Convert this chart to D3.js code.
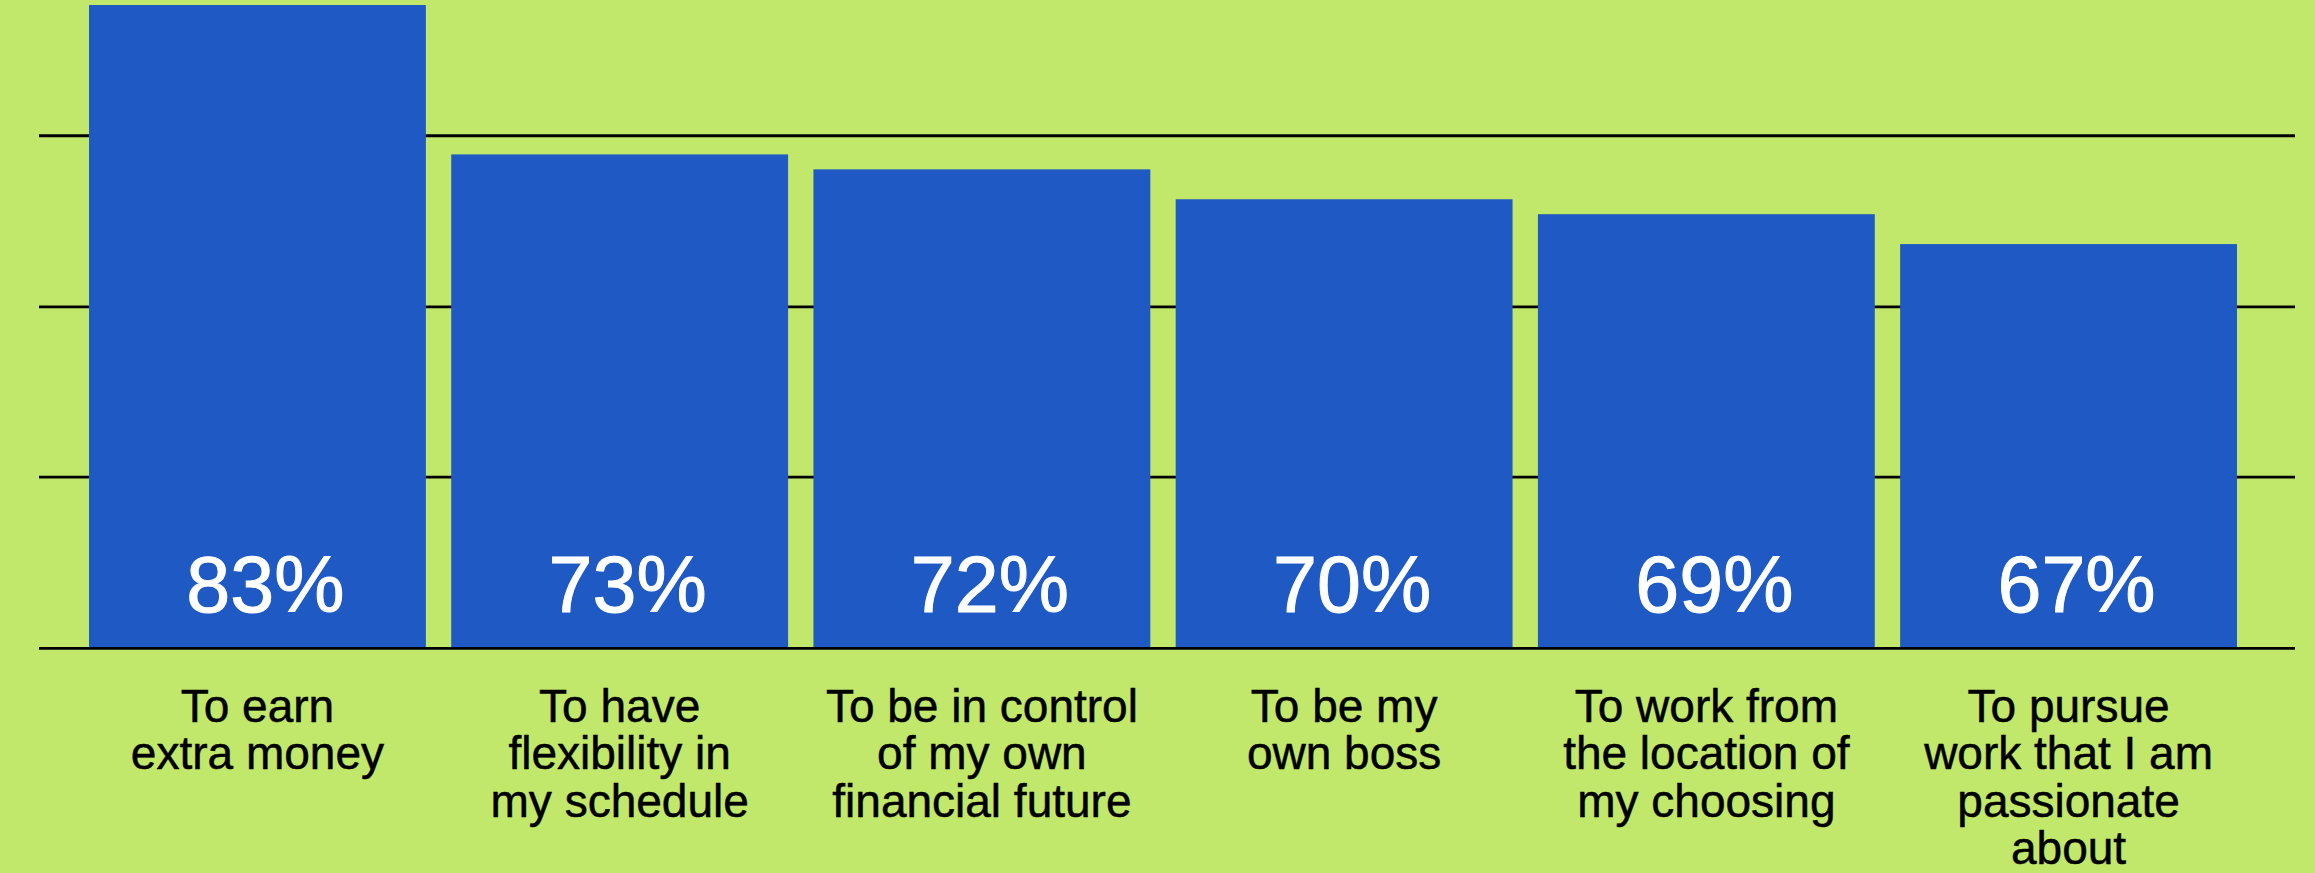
<!DOCTYPE html>
<html>
<head>
<meta charset="utf-8">
<script src="https://cdn.jsdelivr.net/npm/d3@7"></script>
<style>
  html, body { margin: 0; padding: 0; background: #c1e86a; }
  svg { display: block; }
</style>
</head>
<body>
<svg id="chart" width="2315" height="873"></svg>
<script>
// Reasons for freelancing, share of respondents (%)
const categories = [
  ["To earn", "extra money"],
  ["To have", "flexibility in", "my schedule"],
  ["To be in control", "of my own", "financial future"],
  ["To be my", "own boss"],
  ["To work from", "the location of", "my choosing"],
  ["To pursue", "work that I am", "passionate", "about"]
];
const values = [83, 73, 72, 70, 69, 67];
const valueLabels = ["83%", "73%", "72%", "70%", "69%", "67%"];
// value axis: baseline and the horizontal rules above it
const axisFloor = 40;
const axisTop = 83;
const gridValues = [51.4, 62.8, 74.25];

const W = 2315, H = 873;
const BG = "#c1e86a", BAR = "#1f59c4", INK = "#000000";

const svg = d3.select("#chart");
svg.append("rect").attr("width", W).attr("height", H).attr("fill", BG);

const x = d3.scaleBand()
  .domain(d3.range(values.length))
  .range([89, 2237])
  .paddingInner(0.07)
  .paddingOuter(0);

const y = d3.scaleLinear()
  .domain([axisFloor, axisTop])
  .range([647.5, 5]);

const ruleX0 = 39, ruleX1 = 2295;

// horizontal rules behind the bars
svg.append("g")
  .selectAll("line")
  .data(gridValues)
  .join("line")
  .attr("x1", ruleX0).attr("x2", ruleX1)
  .attr("y1", d => y(d)).attr("y2", d => y(d))
  .attr("stroke", INK)
  .attr("stroke-width", 2.8);

// bars
svg.append("g")
  .selectAll("rect")
  .data(values)
  .join("rect")
  .attr("x", (d, i) => x(i))
  .attr("width", x.bandwidth())
  .attr("y", d => y(d))
  .attr("height", d => y(axisFloor) - y(d))
  .attr("fill", BAR);

// baseline over the bar feet
svg.append("line")
  .attr("x1", ruleX0).attr("x2", ruleX1)
  .attr("y1", y(axisFloor) + 0.8).attr("y2", y(axisFloor) + 0.8)
  .attr("stroke", INK)
  .attr("stroke-width", 2.8);

// value labels inside the bars
svg.append("g")
  .selectAll("text")
  .data(valueLabels)
  .join("text")
  .attr("x", (d, i) => x(i) + x.bandwidth() / 2 + 8)
  .attr("y", y(axisFloor) - 36)
  .attr("text-anchor", "middle")
  .attr("font-family", "'Liberation Sans', Arial, sans-serif")
  .attr("font-size", 79)
  .attr("fill", "#ffffff")
  .attr("stroke", "#ffffff")
  .attr("stroke-width", 1)
  .text(d => d);

// category labels under the baseline
const cat = svg.append("g")
  .selectAll("text")
  .data(categories)
  .join("text")
  .attr("text-anchor", "middle")
  .attr("font-family", "'Liberation Sans', Arial, sans-serif")
  .attr("font-size", 46)
  .attr("fill", INK)
  .attr("stroke", INK)
  .attr("stroke-width", 0.5)
  .attr("transform", (d, i) => `translate(${x(i) + x.bandwidth() / 2},722)`);

cat.selectAll("tspan")
  .data(d => d)
  .join("tspan")
  .attr("x", 0)
  .attr("y", (d, j) => j * 47.4)
  .text(d => d);
</script>
</body>
</html>
